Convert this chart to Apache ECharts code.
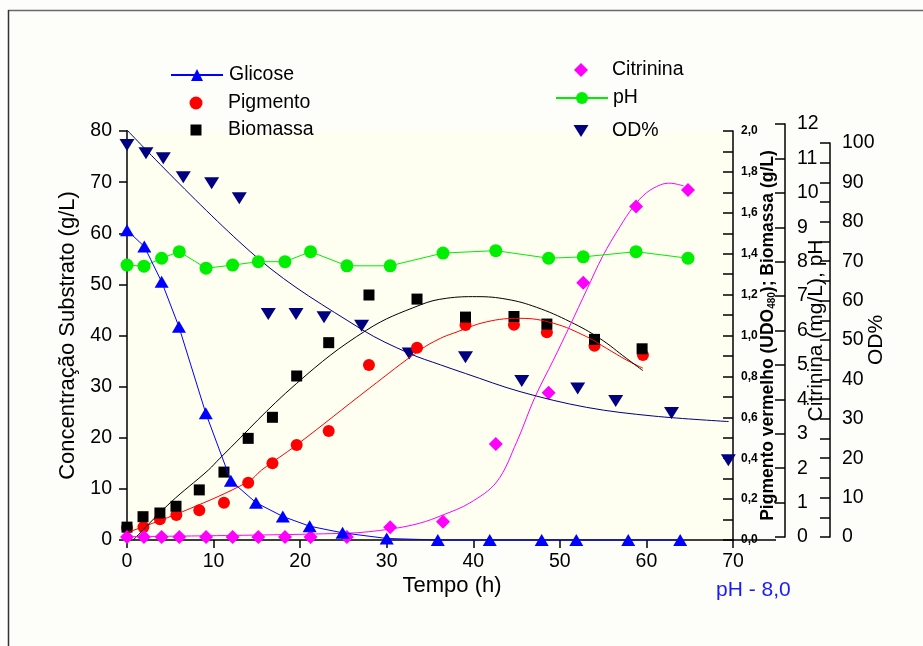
<!DOCTYPE html>
<html>
<head>
<meta charset="utf-8">
<script src="https://cdn.jsdelivr.net/npm/echarts@6/dist/echarts.min.js"></script>
<style>
html,body{margin:0;padding:0;background:#fdfdfa;}
#chart{width:923px;height:646px;}
</style>
</head>
<body>
<div id="chart"></div>
<script>
// ---- Data ----
// Glicose (g/L, left axis)
const glicoseT = [0, 2, 4, 6, 9.1, 12, 14.9, 18, 21.1, 24.9, 30, 35.9, 41.9, 47.9, 51.9, 57.9, 63.9];
const glicoseV = [60.6, 57.4, 50.5, 41.7, 24.8, 11.6, 7.3, 4.6, 2.7, 1.4, 0.3, 0, 0, 0, 0, 0, 0];

// Pigmento vermelho (UDO480, right axis 0-2)
const pigmentoT = [0, 1.9, 3.8, 5.7, 8.35, 11.2, 14.0, 16.8, 19.6, 23.3, 27.95, 33.5, 39.1, 44.7, 48.5, 54.0, 59.6];
const pigmentoV = [0.06, 0.064, 0.102, 0.122, 0.145, 0.182, 0.28, 0.375, 0.465, 0.533, 0.856, 0.94, 1.051, 1.053, 1.016, 0.95, 0.905];

// Biomassa (g/L, right axis 0-2)
const biomassaT = [0, 1.85, 3.8, 5.66, 8.35, 11.2, 14.0, 16.8, 19.6, 23.3, 27.95, 33.5, 39.1, 44.7, 48.5, 54.0, 59.5];
const biomassaV = [0.063, 0.114, 0.132, 0.165, 0.245, 0.332, 0.497, 0.6, 0.802, 0.965, 1.198, 1.178, 1.09, 1.093, 1.056, 0.981, 0.935];

// Citrinina (mg/L) and pH, axis 0-12
const citrininaT = [0, 1.96, 4.0, 6.04, 9.13, 12.2, 15.17, 18.25, 21.2, 25.4, 30.4, 36.5, 42.6, 48.7, 52.7, 58.8, 64.8];
const citrininaV = [0, 0, 0, 0, 0, 0, 0, 0, 0, 0, 0.28, 0.44, 2.7, 4.19, 7.39, 9.6, 10.08];
const phT = [0, 1.96, 4.0, 6.04, 9.13, 12.2, 15.17, 18.25, 21.2, 25.4, 30.4, 36.5, 42.6, 48.7, 52.7, 58.8, 64.8];
const phV = [7.9, 7.87, 8.1, 8.29, 7.81, 7.9, 8.0, 8.0, 8.29, 7.88, 7.88, 8.25, 8.32, 8.1, 8.14, 8.29, 8.1];

// OD% (0-100)
const odT = [0, 2.19, 4.19, 6.5, 9.78, 12.97, 16.32, 19.52, 22.76, 27.1, 32.6, 39.1, 45.6, 52.06, 56.45, 62.9, 69.46];
const odV = [99.5, 97.4, 96.1, 91.3, 89.8, 86.0, 56.6, 56.6, 55.8, 53.6, 46.6, 45.6, 39.6, 37.7, 34.5, 31.5, 19.5];

// Fitted curves
const fitPigmentoT = [0, 6.9, 14.0, 15.55, 19.6, 28.0, 33.85, 36.2, 37.7, 41.55, 45.4, 49.25, 53.1, 55.4, 57.7, 59.6];
const fitPigmentoV = [0.036, 0.147, 0.285, 0.342, 0.465, 0.742, 0.929, 0.986, 1.011, 1.067, 1.084, 1.06, 0.994, 0.937, 0.88, 0.84];
const fitBiomassaT = [0.73, 4.97, 9.4, 10.74, 19.6, 27.7, 33.85, 36.9, 40.4, 43.9, 47.3, 51.2, 54.6, 57.7, 59.6];
const fitBiomassaV = [0, 0.181, 0.342, 0.40, 0.766, 1.027, 1.149, 1.182, 1.19, 1.177, 1.138, 1.067, 0.986, 0.888, 0.828];
const fitCitrininaT = [0, 25.4, 30.4, 33.8, 36.5, 39.6, 42.7, 45.0, 47.1, 49.25, 51.2, 53.1, 54.95, 56.95, 58.5, 60.0, 61.6, 62.7, 64.3];
const fitCitrininaV = [0.01, 0.11, 0.23, 0.40, 0.64, 0.99, 1.6, 2.75, 4.05, 5.14, 6.16, 7.18, 8.16, 9.02, 9.6, 10.0, 10.23, 10.28, 10.2];
const fitOdT = [0, 15.2, 27.1, 32.6, 36.2, 39.1, 45.4, 53.1, 60.8, 69.5];
const fitOdV = [103.3, 70.6, 52.7, 46.6, 43.7, 41.5, 36.9, 32.9, 30.7, 29.3];

// Axis ranges / ticks
const xRange = [0, 70, 10];
const leftRange = [0, 80, 10];
const pigRange = [0, 2, 0.2];
const citRange = [0, 12, 1];
const odRange = [0, 100, 10];

const pairs = (t, v) => t.map((x, i) => [x, v[i]]);

const FONT = 'Liberation Sans, Arial, sans-serif';
const axisLineStyle = { color: '#000', width: 1.5 };

const chart = echarts.init(document.getElementById('chart'), null, { renderer: 'canvas' });

// legend helper: icon centred at cx, text starting at textX, text centre at cy
function legend(name, cx, textX, cy, w, h, icon) {
  const left = cx - w / 2;
  const pad = textX - (left + w + 5);
  const item = icon ? { name: name, icon: icon } : name;
  return {
    data: [item], left: left, top: cy - 10, orient: 'vertical', padding: 0,
    itemWidth: w, itemHeight: h, itemGap: 0, selectedMode: false,
    textStyle: { fontFamily: FONT, fontSize: 19.5, color: '#000', lineHeight: 20, padding: [0, 0, 0, pad] }
  };
}

const hiddenX = (gi) => ({ type: 'value', gridIndex: gi, min: xRange[0], max: xRange[1], interval: xRange[2], show: false });

const option = {
  animation: false,
  backgroundColor: '#fdfdfa',
  textStyle: { fontFamily: FONT },
  graphic: [
    { type: 'line', shape: { x1: 8, y1: 10.5, x2: 923, y2: 10.5 }, style: { stroke: '#6a6a6a', lineWidth: 1.5 }, silent: true },
    { type: 'line', shape: { x1: 8.5, y1: 10, x2: 8.5, y2: 646 }, style: { stroke: '#333', lineWidth: 1.5 }, silent: true },
    { type: 'line', shape: { x1: 733, y1: 540, x2: 776, y2: 540 }, style: { stroke: '#000', lineWidth: 1.5 }, silent: true },
    { type: 'text', left: 716, top: 580, style: { text: 'pH - 8,0', fill: '#1a1aff', font: '21px ' + FONT }, silent: true }
  ],
  legend: [
    legend('Glicose', 196, 228, 75, 52, 15),
    legend('Pigmento', 196, 228, 103, 13, 13),
    legend('Biomassa', 196, 228, 130, 11, 11),
    legend('Citrinina', 581, 612, 70, 14, 14),
    legend('pH', 581, 612, 98, 52, 15),
    legend('OD%', 581, 612, 131, 15, 12, 'path://M0,0 L15,0 L7.5,12 Z')
  ],
  grid: [
    { left: 127, top: 131, width: 606, height: 409, show: true, backgroundColor: '#fefef1', borderWidth: 0 },
    { left: 127, top: 124, width: 606, height: 413, show: false },
    { left: 127, top: 143, width: 606, height: 394, show: false }
  ],
  xAxis: [
    {
      type: 'value', gridIndex: 0, min: xRange[0], max: xRange[1], interval: xRange[2],
      name: 'Tempo (h)', nameLocation: 'middle', nameGap: 35, nameMoveOverlap: false,
      nameTextStyle: { fontFamily: FONT, fontSize: 22, color: '#000', padding: [0, 0, 0, 44] },
      axisLine: { onZero: false, lineStyle: axisLineStyle },
      axisTick: { length: 8, lineStyle: axisLineStyle },
      axisLabel: { fontFamily: FONT, fontSize: 19.5, color: '#000', margin: 12 },
      splitLine: { show: false }
    },
    hiddenX(1),
    hiddenX(2)
  ],
  yAxis: [
    {
      type: 'value', gridIndex: 0, position: 'left', min: leftRange[0], max: leftRange[1], interval: leftRange[2],
      name: 'Concentração Substrato (g/L)', nameLocation: 'middle', nameGap: 48, nameRotate: 90, nameMoveOverlap: false,
      nameTextStyle: { fontFamily: FONT, fontSize: 22, color: '#000' },
      axisLine: { show: true, onZero: false, lineStyle: axisLineStyle },
      axisTick: { show: true, length: 8, lineStyle: axisLineStyle },
      axisLabel: { fontFamily: FONT, fontSize: 19.5, color: '#000', margin: 15 },
      splitLine: { show: false }
    },
    {
      type: 'value', gridIndex: 0, position: 'right', min: pigRange[0], max: pigRange[1], interval: pigRange[2],
      name: 'Pigmento vermelho (UDO{s|480}); Biomassa (g/L)', nameLocation: 'middle', nameGap: 26, nameRotate: 90, nameMoveOverlap: false,
      nameTextStyle: {
        fontFamily: FONT, fontSize: 17.5, fontWeight: 'bold', color: '#000', lineHeight: 18,
        rich: { s: { fontFamily: FONT, fontSize: 10, fontWeight: 'bold', color: '#000', verticalAlign: 'bottom', lineHeight: 18 } }
      },
      axisLine: { show: true, onZero: false, lineStyle: axisLineStyle },
      axisTick: { show: true, inside: true, length: 10, lineStyle: axisLineStyle },
      minorTick: { show: true, splitNumber: 2, length: 10, lineStyle: axisLineStyle },
      axisLabel: { fontFamily: FONT, fontSize: 12, fontWeight: 'bold', color: '#000', margin: 8,
        formatter: v => v.toFixed(1).replace('.', ',') },
      splitLine: { show: false }
    },
    {
      type: 'value', gridIndex: 1, position: 'right', offset: 52, min: citRange[0], max: citRange[1], interval: citRange[2],
      name: 'Citrinina (mg/L), pH', nameLocation: 'middle', nameGap: 21, nameRotate: 90, nameMoveOverlap: false,
      nameTextStyle: { fontFamily: FONT, fontSize: 21, color: '#000' },
      axisLine: { show: true, onZero: false, lineStyle: axisLineStyle },
      axisTick: { show: true, inside: true, length: 10, lineStyle: axisLineStyle },
      axisLabel: { fontFamily: FONT, fontSize: 19.5, color: '#000', margin: 12 },
      splitLine: { show: false }
    },
    {
      type: 'value', gridIndex: 2, position: 'right', offset: 97, min: odRange[0], max: odRange[1], interval: odRange[2],
      name: 'OD%', nameLocation: 'middle', nameGap: 36, nameRotate: 90, nameMoveOverlap: false,
      nameTextStyle: { fontFamily: FONT, fontSize: 21, color: '#000' },
      axisLine: { show: true, onZero: false, lineStyle: axisLineStyle },
      axisTick: { show: true, inside: true, length: 10, lineStyle: axisLineStyle },
      minorTick: { show: true, splitNumber: 2, length: 10, lineStyle: axisLineStyle },
      axisLabel: { fontFamily: FONT, fontSize: 19.5, color: '#000', margin: 12 },
      splitLine: { show: false }
    }
  ],
  series: [
    { name: 'Ajuste Pigmento', type: 'line', xAxisIndex: 0, yAxisIndex: 1, data: pairs(fitPigmentoT, fitPigmentoV),
      smooth: 0.4, showSymbol: false, symbol: 'none', lineStyle: { color: '#ff0000', width: 1 } },
    { name: 'Ajuste Biomassa', type: 'line', xAxisIndex: 0, yAxisIndex: 1, data: pairs(fitBiomassaT, fitBiomassaV),
      smooth: 0.4, showSymbol: false, symbol: 'none', lineStyle: { color: '#000', width: 1 } },
    { name: 'Ajuste Citrinina', type: 'line', xAxisIndex: 1, yAxisIndex: 2, data: pairs(fitCitrininaT, fitCitrininaV),
      smooth: 0.35, showSymbol: false, symbol: 'none', lineStyle: { color: '#ff00ff', width: 1 } },
    { name: 'Ajuste OD', type: 'line', xAxisIndex: 2, yAxisIndex: 3, data: pairs(fitOdT, fitOdV), clip: false,
      smooth: 0.35, showSymbol: false, symbol: 'none', lineStyle: { color: '#000080', width: 1 } },
    { name: 'pH', type: 'line', xAxisIndex: 1, yAxisIndex: 2, data: pairs(phT, phV),
      symbol: 'circle', symbolSize: 13, itemStyle: { color: '#00ee00', opacity: 1 }, lineStyle: { color: '#00ee00', width: 1 } },
    { name: 'OD%', type: 'scatter', xAxisIndex: 2, yAxisIndex: 3, data: pairs(odT, odV),
      symbol: 'triangle', symbolRotate: 180, symbolSize: [15, 12], itemStyle: { color: '#000080', opacity: 1 } },
    { name: 'Pigmento', type: 'scatter', xAxisIndex: 0, yAxisIndex: 1, data: pairs(pigmentoT, pigmentoV),
      symbol: 'circle', symbolSize: 12, itemStyle: { color: '#ff0000', opacity: 1 } },
    { name: 'Biomassa', type: 'scatter', xAxisIndex: 0, yAxisIndex: 1, data: pairs(biomassaT, biomassaV),
      symbol: 'rect', symbolSize: 11, itemStyle: { color: '#000', opacity: 1 } },
    { name: 'Glicose', type: 'line', xAxisIndex: 0, yAxisIndex: 0, data: pairs(glicoseT, glicoseV), clip: false,
      symbol: 'triangle', symbolSize: [14, 12], itemStyle: { color: '#0000ff', opacity: 1 }, lineStyle: { color: '#0000ff', width: 1 } },
    { name: 'Citrinina', type: 'scatter', xAxisIndex: 1, yAxisIndex: 2, data: pairs(citrininaT, citrininaV), clip: false,
      symbol: 'diamond', symbolSize: [14, 14], itemStyle: { color: '#ff00ff', opacity: 1 } }
  ]
};
chart.setOption(option);
</script>
</body>
</html>
